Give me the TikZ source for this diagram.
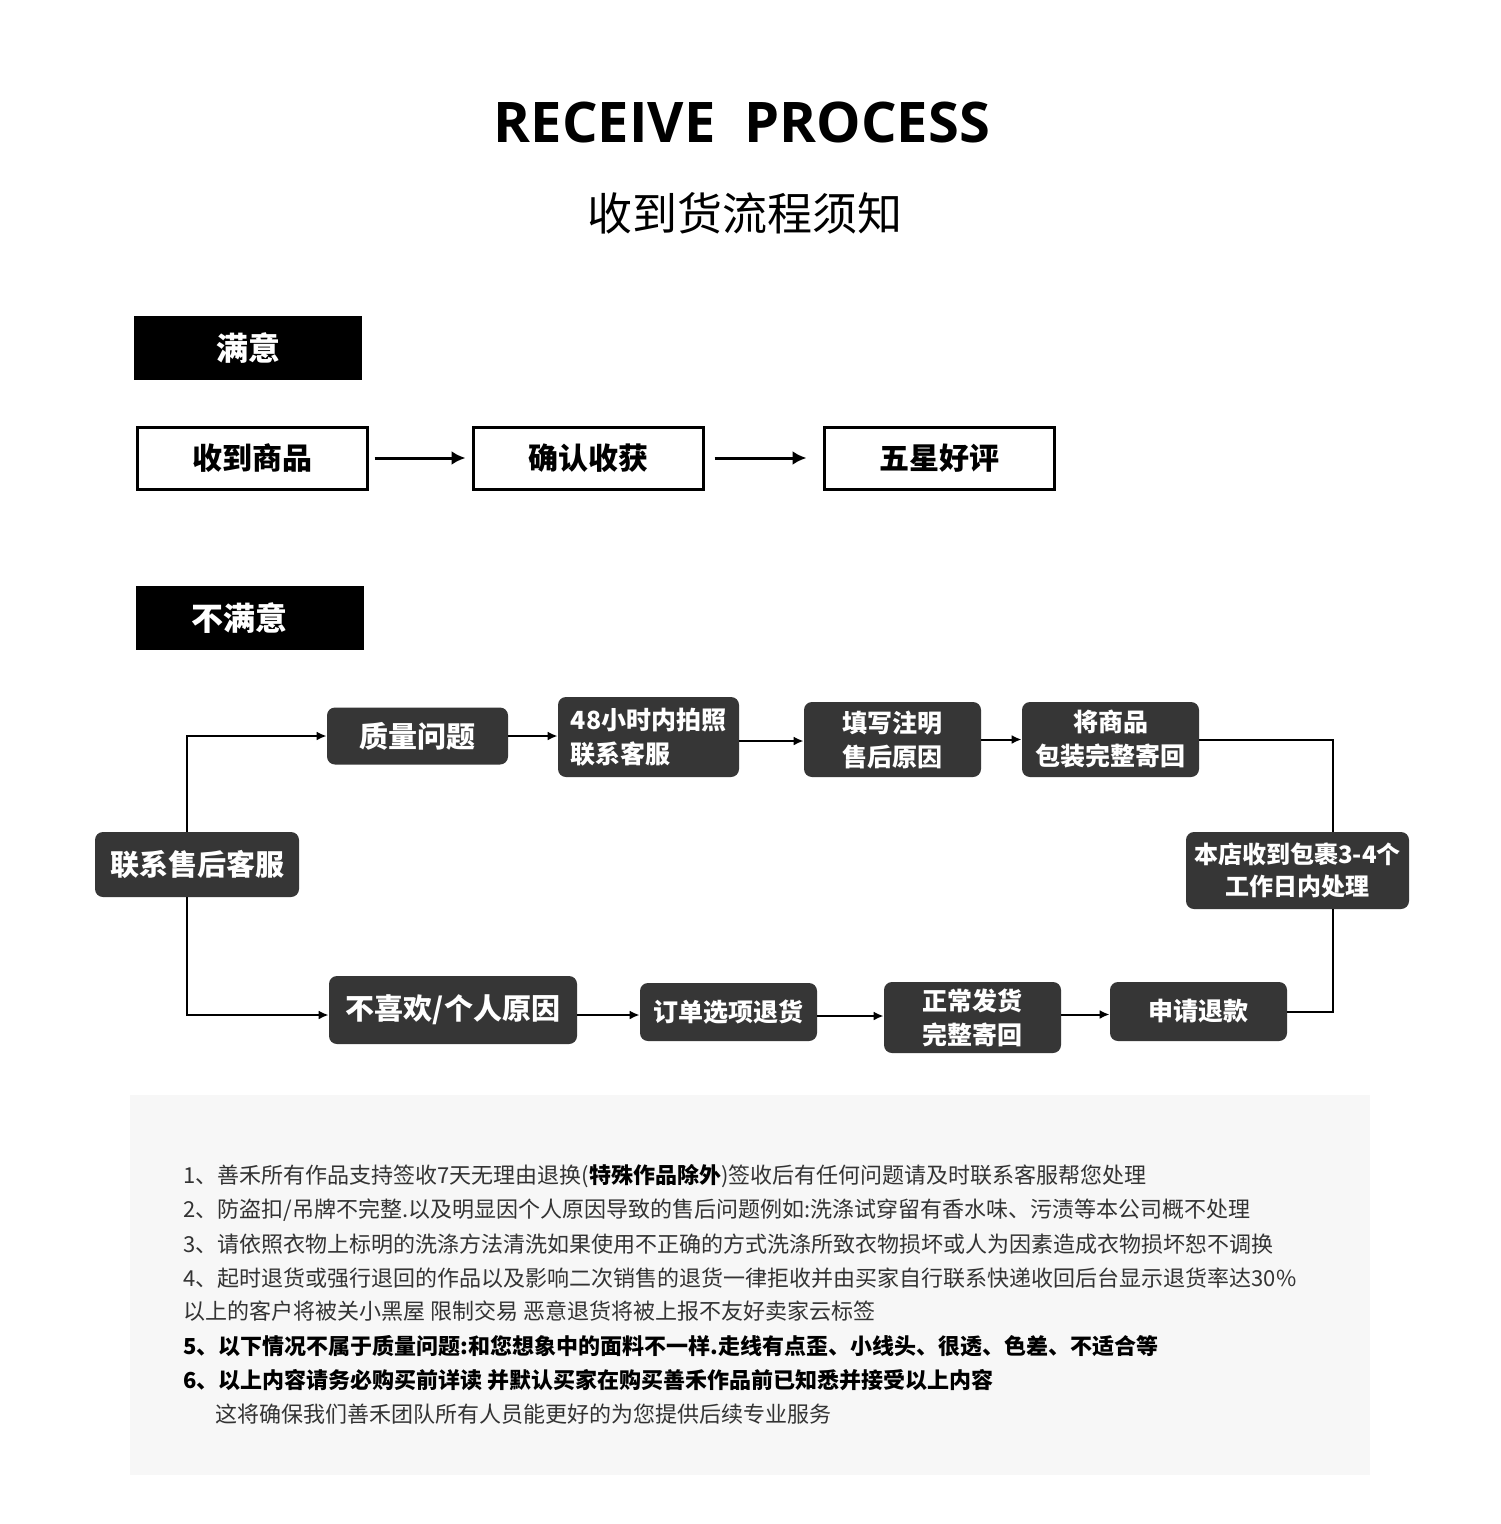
\documentclass[tikz,border=0pt]{standalone}
\usepackage{fontspec}
\setmainfont{Noto Sans CJK SC}
\newfontfamily\titlefont{Open Sans}
\usetikzlibrary{arrows.meta}
\definecolor{boxdark}{HTML}{363636}
\definecolor{panelgray}{HTML}{F7F7F7}
\definecolor{txtgray}{HTML}{333333}
\tikzset{
  hdr/.style={fill=black, text=white, minimum width=114pt, minimum height=32pt, inner sep=0pt,
    font=\fontsize{16pt}{19pt}\selectfont\bfseries},
  wbox/.style={draw=black, line width=1.5pt, fill=white, minimum width=115pt, minimum height=31pt, inner sep=0pt,
    font=\fontsize{15pt}{18pt}\selectfont\bfseries},
  dbox/.style={fill=boxdark, text=white, rounded corners=4pt, inner sep=0pt, align=center,
    font=\fontsize{12.5pt}{17pt}\selectfont\bfseries},
  dbig/.style={dbox, font=\fontsize{14.5pt}{17pt}\selectfont\bfseries},
  bigarr/.style={line width=1.5pt, -{Latex[length=7pt,width=7pt]}},
  arr/.style={line width=1pt, -{Latex[length=5pt,width=4.5pt]}},
  lnk/.style={line width=1pt},
  note/.style={anchor=west, inner sep=0pt, text=txtgray, font=\fontsize{11pt}{14pt}\selectfont},
  notebold/.style={note, text=black, font=\fontsize{11pt}{14pt}\selectfont\bfseries}
}
\begin{document}
\begin{tikzpicture}[x=0.5pt,y=-0.5pt]
\useasboundingbox[fill=white] (0,0) rectangle (1500,1524);

% titles
\node (title) at (742,122) {\titlefont\bfseries\fontsize{28pt}{34pt}\selectfont RECEIVE\ \ PROCESS};
\node (subtitle) at (745,213) {\fontsize{22.5pt}{27pt}\selectfont 收到货流程须知};

% satisfied
\node[hdr] (sat) at (248,348) {满意};
\node[wbox] (recv) at (252,458) {收到商品};
\node[wbox] (conf) at (588,458) {确认收获};
\node[wbox] (star) at (939,458) {五星好评};
\draw[bigarr, shorten <=3pt, shorten >=3pt] (recv) -- (conf);
\draw[bigarr, shorten <=5pt, shorten >=8pt] (conf) -- (star);

% unsatisfied
\node[hdr] (unsat) at (250,618) {\hspace*{-11pt}不满意};

\node[dbig, minimum width=102pt, minimum height=32.5pt] (cs) at (197,864.5) {联系售后客服};
\node[dbig, minimum width=90.5pt, minimum height=28.5pt] (q) at (417.5,736) {质量问题};
\node[dbox, align=left, minimum width=90.5pt, minimum height=40pt] (p48) at (648.5,737) {48小时内拍照\\联系客服};
\node[dbox, minimum width=88.5pt, minimum height=37.5pt] (fillr) at (892.5,739.5) {填写注明\\售后原因};
\node[dbox, minimum width=88.5pt, minimum height=37.5pt] (pack) at (1110.5,739.5) {将商品\\包装完整寄回};
\node[dbox, minimum width=111.5pt, minimum height=38.5pt, font=\fontsize{12pt}{16pt}\selectfont\bfseries] (shop) at (1297.5,870.5) {本店收到包裹3-4个\\工作日内处理};
\node[dbig, minimum width=124pt, minimum height=34pt] (dis) at (453,1010) {不喜欢/个人原因};
\node[dbox, minimum width=88.5pt, minimum height=29pt] (order) at (728.5,1012) {订单选项退货};
\node[dbox, minimum width=88.5pt, minimum height=35.5pt] (ship) at (972.5,1017.5) {正常发货\\完整寄回};
\node[dbox, minimum width=88.5pt, minimum height=29.5pt] (refund) at (1198.5,1011.5) {申请退款};

\coordinate (rt) at (1333,741);

\draw[arr] ([xshift=-5pt]cs.north) |- (q.west);
\draw[arr] ([xshift=-5pt]cs.south) |- ([yshift=-2.5pt]dis.west);
\draw[arr] (q.east) -- (q.east -| p48.west);
\draw[arr] ([yshift=-2pt]p48.east) -- ([yshift=-2pt]p48.east -| fillr.west);
\draw[arr] (fillr.east) -- (fillr.east -| pack.west);
\draw[lnk] (pack.east) -- (pack.east -| rt) -- (shop.north -| rt);
\draw[lnk] (shop.south -| rt) |- (refund.east);
\draw[arr] ([yshift=-2.5pt]dis.east) -- ([yshift=-2.5pt]dis.east -| order.west);
\draw[arr] ([yshift=-2pt]order.east) -- ([yshift=-2pt]order.east -| ship.west);
\draw[arr] ([yshift=1.5pt]ship.east) -- ([yshift=1.5pt]ship.east -| refund.west);

% notes panel
\fill[panelgray] (130,1095) rectangle (1370,1475);
\node[note] (n1) at (183,1176) {1、善禾所有作品支持签收7天无理由退换({\bfseries\color{black}特殊作品除外})签收后有任何问题请及时联系客服帮您处理};
\node[note] (n2) at (183,1210) {2、防盗扣/吊牌不完整.以及明显因个人原因导致的售后问题例如:洗涤试穿留有香水味、污渍等本公司概不处理};
\node[note] (n3) at (183,1244) {3、请依照衣物上标明的洗涤方法清洗如果使用不正确的方式洗涤所致衣物损坏或人为因素造成衣物损坏恕不调换};
\node[note] (n4) at (183,1278) {4、起时退货或强行退回的作品以及影响二次销售的退货一律拒收并由买家自行联系快递收回后台显示退货率达30\%};
\node[note] (n5) at (183,1311) {以上的客户将被关小黑屋 限制交易 恶意退货将被上报不友好卖家云标签};
\node[notebold] (n6) at (183,1346) {5、以下情况不属于质量问题:和您想象中的面料不一样.走线有点歪、小线头、很透、色差、不适合等};
\node[notebold] (n7) at (183,1380) {6、以上内容请务必购买前详读 并默认买家在购买善禾作品前已知悉并接受以上内容};
\node[note] (n8) at (215,1414) {这将确保我们善禾团队所有人员能更好的为您提供后续专业服务};
\end{tikzpicture}
\end{document}
